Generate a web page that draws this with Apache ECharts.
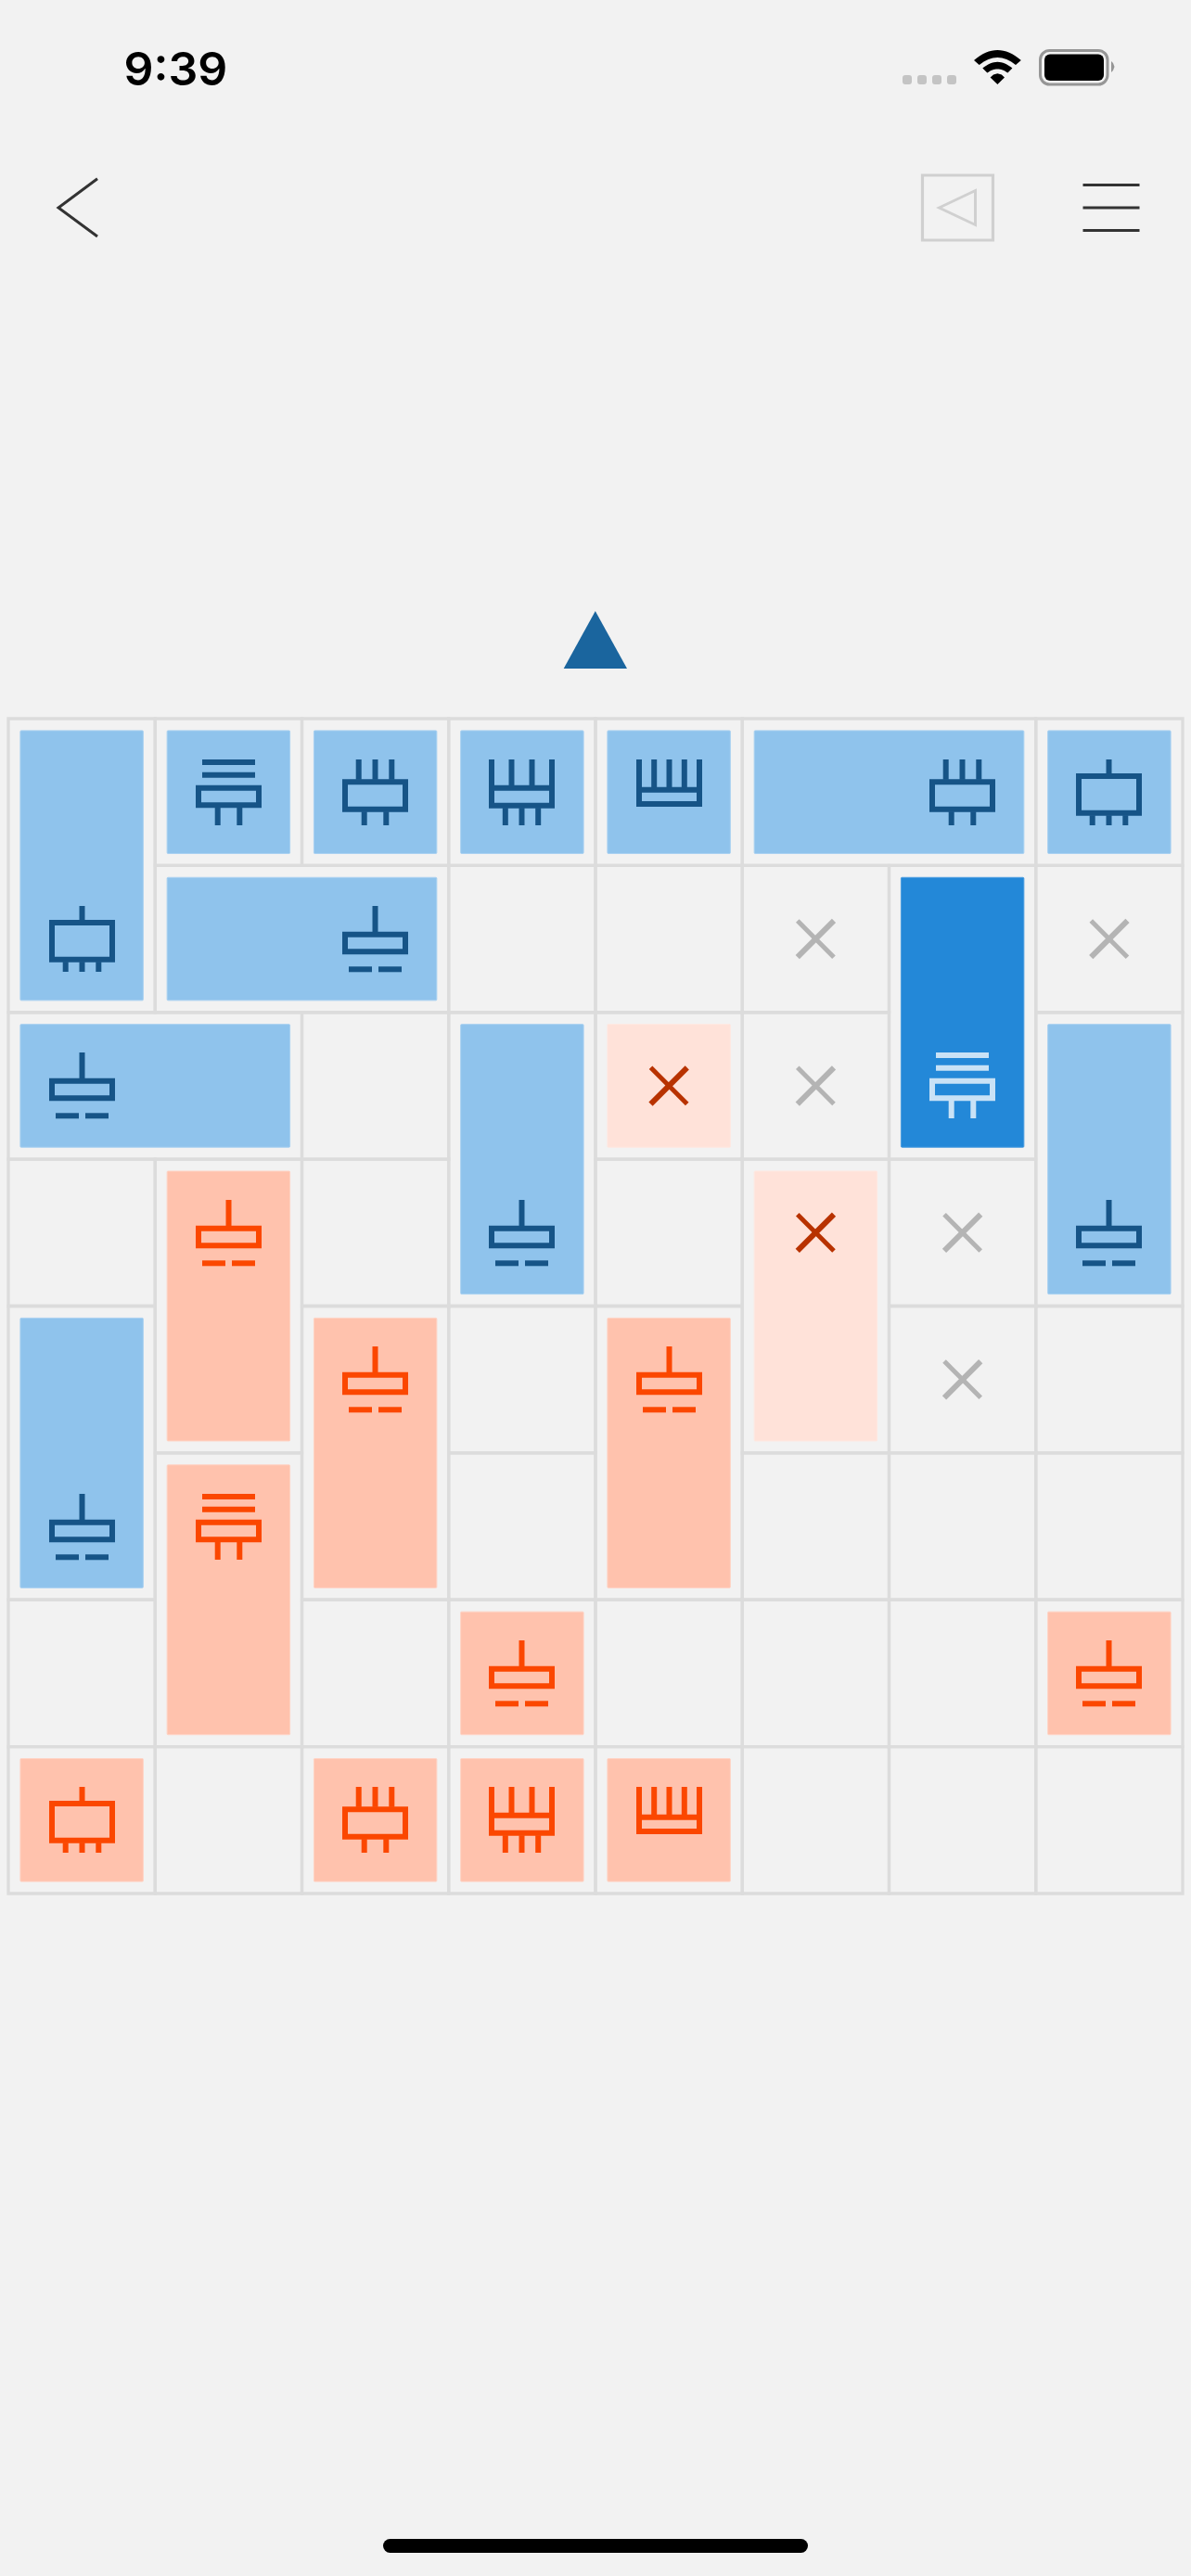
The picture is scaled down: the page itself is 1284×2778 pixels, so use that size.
<!DOCTYPE html>
<html>
<head>
<meta charset="utf-8">
<style>html,body{margin:0;padding:0;background:#f2f2f2}#chart{width:1284px;height:2778px}</style>
<script src="https://cdn.jsdelivr.net/npm/echarts@6/dist/echarts.min.js"></script>
</head>
<body>
<div id="chart"></div>
<script>
// Each cell: [col, row, colSpan, rowSpan, glyph, glyphCol, glyphRow]
var blueCells = [
  [0,0,1,2,'a',0,1],[1,0,1,1,'b',1,0],[2,0,1,1,'c',2,0],[3,0,1,1,'d',3,0],[4,0,1,1,'e',4,0],
  [5,0,2,1,'c',6,0],[7,0,1,1,'a',7,0],[1,1,2,1,'f',2,1],[0,2,2,1,'f',0,2],[3,2,1,2,'f',3,3],
  [7,2,1,2,'f',7,3],[0,4,1,2,'f',0,5]
];
var selectedCells = [[6,1,1,2,'b',6,2]];
var orangeCells = [
  [1,3,1,2,'f',1,3],[2,4,1,2,'f',2,4],[4,4,1,2,'f',4,4],[1,5,1,2,'b',1,5],[3,6,1,1,'f',3,6],
  [7,6,1,1,'f',7,6],[0,7,1,1,'a',0,7],[2,7,1,1,'c',2,7],[3,7,1,1,'d',3,7],[4,7,1,1,'e',4,7]
];
var paleCells = [[4,2,1,1,'x',4,2],[5,3,1,2,'x',5,3]];
var crossCells = [[5,1,1,1,'x',5,1],[7,1,1,1,'x',7,1],[5,2,1,1,'x',5,2],[6,3,1,1,'x',6,3],[6,4,1,1,'x',6,4]];
var emptyCells = [
  [3,1,1,1],[4,1,1,1],[2,2,1,1],[0,3,1,1],[2,3,1,1],[4,3,1,1],[3,4,1,1],[7,4,1,1],
  [3,5,1,1],[5,5,1,1],[6,5,1,1],[7,5,1,1],[0,6,1,1],[2,6,1,1],[4,6,1,1],[5,6,1,1],[6,6,1,1],
  [1,7,1,1],[5,7,1,1],[6,7,1,1],[7,7,1,1]
];
var clockLabel = '9:39';

var S = 6, G = 71;
function v(cx, y0, y1) { return {k:'r', x:cx - S/2, y:y0, w:S, h:y1 - y0}; }
function h(x0, x1, y0) { return {k:'r', x:x0, y:y0, w:x1 - x0, h:S}; }
function box(y0, y1) { return {k:'b', y0:y0, y1:y1}; }
var glyphs = {
  a: [box(15,60.7), v(35.5,0,15.5), v(17.7,60.2,71), v(35.5,60.2,71), v(53.3,60.2,71)],
  b: [h(7,64,0), h(7,64,13.7), box(27.7,52.3), v(23.7,52,71), v(47.3,52,71)],
  c: [v(17.7,0,21.8), v(35.5,0,21.8), v(53.3,0,21.8), box(21.3,56.7), v(23.7,56.2,71), v(47.3,56.2,71)],
  d: [box(27.7,52.7), v(3,0,28), v(24.5,0,28), v(46.5,0,28), v(68,0,28), v(17.8,52.2,71), v(35.5,52.2,71), v(53.2,52.2,71)],
  e: [box(29.7,51), v(3,0,30), v(19.2,0,30), v(35.5,0,30), v(51.8,0,30), v(68,0,30)],
  f: [v(35.5,0,28), box(27.7,52.3), h(7,32,65.3), h(39,64,65.3)]
};

function cellRenderer(tileColor, tileEdge, iconColor) {
  return function (params, api) {
    var col = api.value(0), row = api.value(1), cs = api.value(2), rs = api.value(3);
    var glyph = api.value(4), gc = api.value(5), gr = api.value(6);
    var p0 = api.coord([col, row]), p1 = api.coord([col + cs, row + rs]);
    var kids = [{
      type:'rect', shape:{x:p0[0], y:p0[1], width:p1[0]-p0[0], height:p1[1]-p0[1]},
      style:{fill:'none', stroke:'#dcdcdc', lineWidth:3.3}
    }];
    var inset = 12.9;
    if (tileColor) {
      kids.push({
        type:'rect', shape:{x:p0[0]+inset, y:p0[1]+inset, width:p1[0]-p0[0]-inset*2, height:p1[1]-p0[1]-inset*2, r:1},
        style:{fill:tileColor, stroke:tileEdge, lineWidth:1}
      });
    }
    if (glyph && glyph !== '-') {
      var a0 = api.coord([gc, gr]), a1 = api.coord([gc + 1, gr + 1]);
      var cx = (a0[0]+a1[0])/2, cy = (a0[1]+a1[1])/2;
      if (glyph === 'x') {
        var d = 19.6;
        kids.push({type:'line', shape:{x1:cx-d, y1:cy-d, x2:cx+d, y2:cy+d}, style:{stroke:iconColor, lineWidth:5}});
        kids.push({type:'line', shape:{x1:cx-d, y1:cy+d, x2:cx+d, y2:cy-d}, style:{stroke:iconColor, lineWidth:6}});
      } else {
        var ox = Math.round(cx - G/2), oy = Math.round(cy - G/2);
        glyphs[glyph].forEach(function (g) {
          if (g.k === 'r') {
            kids.push({type:'rect', shape:{x:ox+g.x, y:oy+g.y, width:g.w, height:g.h}, style:{fill:iconColor}});
          } else {
            kids.push({type:'rect', shape:{x:ox+S/2, y:oy+g.y0+S/2, width:G-S, height:g.y1-g.y0-S}, style:{fill:'none', stroke:iconColor, lineWidth:S}});
          }
        });
      }
    }
    return {type:'group', children:kids};
  };
}
function cellSeries(name, data, tile, edge, icon) {
  return {
    name:name, type:'custom', coordinateSystem:'cartesian2d', clip:false, silent:true,
    animation:false,
    data:data.map(function (c) { return [c[0],c[1],c[2],c[3],c[4]||'-',c[5]===undefined?-1:c[5],c[6]===undefined?-1:c[6]]; }),
    dimensions:[{name:'col',type:'number'},{name:'row',type:'number'},{name:'cs',type:'number'},{name:'rs',type:'number'},{name:'glyph',type:'ordinal'},{name:'gc',type:'number'},{name:'gr',type:'number'}],
    encode:{x:0, y:1},
    renderItem: function (params, api) {
      var c = data[params.dataIndex];
      var wrapped = {coord:api.coord, value:function (i) { return c[i]; }};
      return cellRenderer(tile, edge, icon)(params, wrapped);
    }
  };
}
function quad(x0, y0, cx, cy, x1, y1) {
  var pts = [];
  for (var i = 0; i <= 16; i++) {
    var t = i/16, u = 1-t;
    pts.push([u*u*x0+2*u*t*cx+t*t*x1, u*u*y0+2*u*t*cy+t*t*y1]);
  }
  return pts;
}
function band(o, n) { return o.concat(n.reverse()); }
var ink = '#333333', soft = '#d0d0d0';
var chrome = [
  {type:'text', style:{text:clockLabel, x:133.5, y:102, verticalAlign:'bottom', font:'600 50px Inter', fill:'#000'}},
  {type:'rect', shape:{x:973,y:81,width:10,height:10,r:3}, style:{fill:'#c4c4c4'}},
  {type:'rect', shape:{x:989,y:81,width:10,height:10,r:3}, style:{fill:'#c4c4c4'}},
  {type:'rect', shape:{x:1005,y:81,width:10,height:10,r:3}, style:{fill:'#c4c4c4'}},
  {type:'rect', shape:{x:1021,y:81,width:10,height:10,r:3}, style:{fill:'#c4c4c4'}},
  {type:'polygon', shape:{points:band(quad(1050,65,1075.4,43,1100.8,65), quad(1055.7,70,1075.4,54,1095,70))}, style:{fill:'#000'}},
  {type:'polygon', shape:{points:band(quad(1059.3,73.6,1075.4,60,1091.4,73.6), quad(1064.3,78.6,1075.4,70.3,1086.4,78.6))}, style:{fill:'#000'}},
  {type:'polygon', shape:{points:[[1075.4,91],[1067.6,83.4],[1071,80.6],[1075.4,79.3],[1079.8,80.6],[1083,83.4]]}, style:{fill:'#000'}},
  {type:'rect', shape:{x:1121.5,y:54.5,width:72.5,height:36.5,r:10}, style:{fill:'none', stroke:'#969696', lineWidth:3}},
  {type:'rect', shape:{x:1126,y:58.5,width:64,height:28.5,r:6}, style:{fill:'#000'}},
  {type:'polygon', shape:{points:[[1198,66],[1200,68],[1201.5,72],[1200,76],[1198,78]]}, style:{fill:'#969696'}},
  {type:'polyline', shape:{points:[[105,192.7],[63,224],[105,255]]}, style:{fill:'none', stroke:ink, lineWidth:3}},
  {type:'rect', shape:{x:994.5,y:189,width:76,height:70}, style:{fill:'none', stroke:soft, lineWidth:3.2}},
  {type:'polygon', shape:{points:[[1012.5,224],[1051.5,205.5],[1051.5,242.5]]}, style:{fill:'none', stroke:soft, lineWidth:3}},
  {type:'line', shape:{x1:1167.5,y1:199.5,x2:1228.5,y2:199.5}, style:{stroke:ink, lineWidth:3}},
  {type:'line', shape:{x1:1167.5,y1:224,x2:1228.5,y2:224}, style:{stroke:ink, lineWidth:3}},
  {type:'line', shape:{x1:1167.5,y1:248.5,x2:1228.5,y2:248.5}, style:{stroke:ink, lineWidth:3}},
  {type:'polygon', shape:{points:[[641.8,659],[676,721],[607.7,721]]}, style:{fill:'#1a659e'}},
  {type:'rect', shape:{x:413,y:2738,width:458,height:15,r:7.5}, style:{fill:'#000'}}
];

var chart = echarts.init(document.getElementById('chart'), null, {renderer:'canvas'});
chart.setOption({
  animation:false,
  backgroundColor:'#f2f2f2',
  grid:{left:9, top:775, width:1266, height:1267, containLabel:false},
  xAxis:{type:'value', min:0, max:8, interval:1, show:false},
  yAxis:{type:'value', min:0, max:8, interval:1, inverse:true, show:false},
  graphic:{elements:chrome},
  series:[
    cellSeries('Empty', emptyCells, null, null, null),
    cellSeries('Blocked', crossCells, null, null, '#b4b4b4'),
    cellSeries('Blue', blueCells, '#8fc3ec', '#a9d1f1', '#165487'),
    cellSeries('Selected', selectedCells, '#2388d8', '#4a9de0', '#c9e2f6'),
    cellSeries('Orange', orangeCells, '#ffc2ad', '#ffd3c4', '#fb4700'),
    cellSeries('Pale', paleCells, '#ffe2d9', '#ffe8e1', '#b83200')
  ]
});
</script>
</body>
</html>
